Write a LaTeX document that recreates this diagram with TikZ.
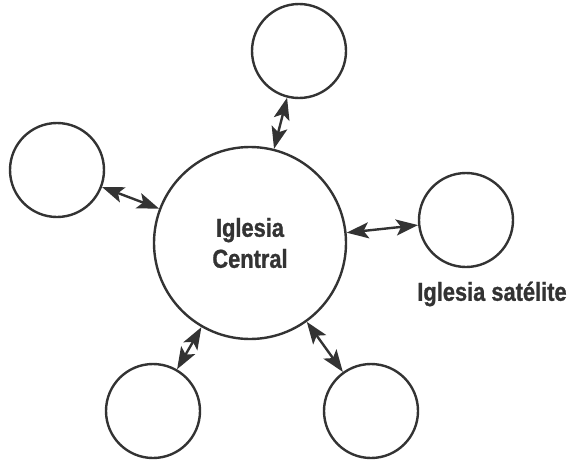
\documentclass[tikz,border=0pt]{standalone}
\usepackage{fontspec}
\setsansfont{Liberation Sans}[FakeStretch=0.84,BoldFont={Liberation Sans Bold},BoldFeatures={FakeStretch=0.84,FakeBold=1}]
\usetikzlibrary{arrows.meta}
\definecolor{ink}{HTML}{333333}
\begin{document}
\begin{tikzpicture}[
  church/.style={circle,draw=ink,line width=2.4pt,inner sep=0pt,fill=white},
  link/.style={color=ink,line width=2.4pt,{Stealth[length=22pt,width=16pt,inset=5pt]}-{Stealth[length=22pt,width=16pt,inset=5pt]}},
  lab/.style={font=\sffamily\bfseries\fontsize{26}{31}\selectfont,text=ink,align=center,inner sep=0pt}]
\useasboundingbox (0pt,0pt) rectangle (570pt,-463pt);
\node[church,minimum size=192pt] (c) at (250pt,-243pt) {};
\node[lab] (ct) at (250pt,-243pt) {Iglesia\\Central};
\node[church,minimum size=94pt] (t) at (299pt,-51pt) {};
\node[church,minimum size=94pt] (l) at (57pt,-170pt) {};
\node[church,minimum size=94pt] (r) at (466pt,-220pt) {};
\node[church,minimum size=94pt] (bl) at (153pt,-411pt) {};
\node[church,minimum size=94pt] (br) at (371pt,-411pt) {};
\node[lab] (sl) at (492pt,-294pt) {Iglesia satélite};
\draw[link] (c) -- (t);
\draw[link] (c) -- (l);
\draw[link] (c) -- (r);
\draw[link] (c) -- (bl);
\draw[link] (c) -- (br);
\end{tikzpicture}
\end{document}
